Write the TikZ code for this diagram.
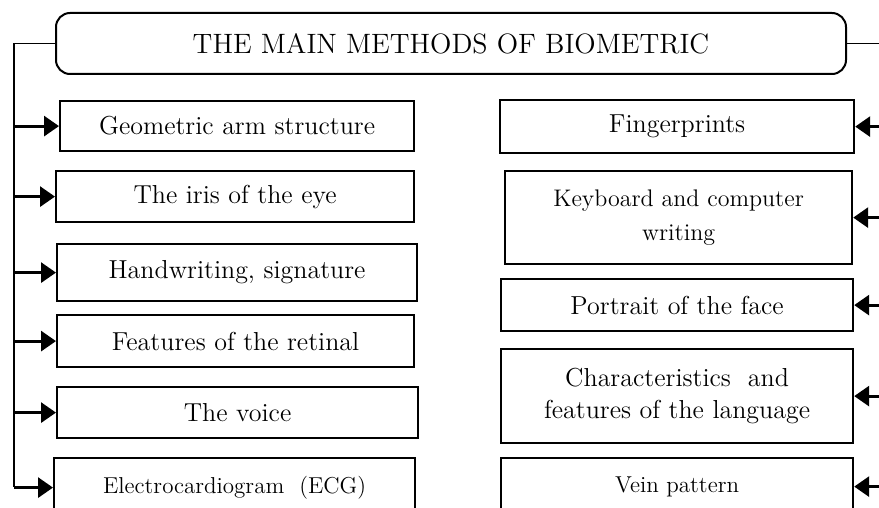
\documentclass[tikz,border=0pt]{standalone}
\usepackage{tikz}
\usetikzlibrary{arrows.meta, positioning, calc}

\begin{document}
\begin{tikzpicture}[x=0.5pt,y=-0.5pt,>={Triangle[length=7.5pt,width=10pt]},thick]
    \tikzstyle{every node}=[font=\fontsize{13}{16}\selectfont]
    \tikzstyle{method}=[draw,line width=1.1pt,anchor=north west,align=center,inner sep=2pt]
    \tikzstyle{head}=[draw,line width=1pt,rounded corners=7pt,anchor=north west,minimum width=395pt,minimum height=30.5pt,font=\fontsize{14}{17}\selectfont]
    \tikzstyle{feed}=[->,line width=1.5pt]
    \tikzstyle{trunk}=[line width=0.9pt]
      \useasboundingbox (0,0) rectangle (879,508);
      \clip (0,0) rectangle (879,508);
      \node[head] (title) at (55,12) {THE MAIN METHODS OF BIOMETRIC};

      % left column
      \node[method,minimum width=177pt,minimum height=25pt]   (arm)    at (59,100) {Geometric arm structure};
      \node[method,minimum width=179pt,minimum height=25.5pt] (iris)   at (55,170) {The iris of the eye};
      \node[method,minimum width=180pt,minimum height=28.5pt] (hand)   at (56,243) {Handwriting, signature};
      \node[method,minimum width=178.5pt,minimum height=26pt] (retina) at (56,314) {Features of the retinal};
      \node[method,minimum width=180.5pt,minimum height=25.5pt] (voice) at (56,386) {The voice};
      \node[method,minimum width=180.5pt,minimum height=29.5pt,font=\fontsize{11.5}{14}\selectfont] (ecg) at (53,457) {Electrocardiogram\ \ (ECG)};

      % right column
      \node[method,minimum width=177pt,minimum height=26.5pt]   (finger) at (499,99)  {Fingerprints};
      \node[method,minimum width=173.5pt,minimum height=46.5pt,font=\fontsize{12}{17}\selectfont] (keyb) at (504,170) {Keyboard and computer\\writing};
      \node[method,minimum width=176pt,minimum height=26pt]     (face)   at (500,278) {Portrait of the face};
      \node[method,minimum width=176pt,minimum height=47pt]     (lang)   at (500,348) {Characteristics\ \ and\\features of the language};
      \node[method,minimum width=176pt,minimum height=28.5pt,font=\fontsize{11.5}{14}\selectfont] (vein) at (500,457) {Vein pattern};

      \coordinate (lbot) at (14,487);
      \coordinate (rbot) at (882,487);

      \draw[trunk] (title.west) -| (lbot);
      \draw[trunk] (title.east) -| (rbot);

      \foreach \m in {arm,iris,hand,retina,voice,ecg}
        \draw[feed] (lbot |- \m.west) -- (\m.west);
      \foreach \m in {finger,keyb,face,lang,vein}
        \draw[feed] (rbot |- \m.east) -- (\m.east);
\end{tikzpicture}
\end{document}
